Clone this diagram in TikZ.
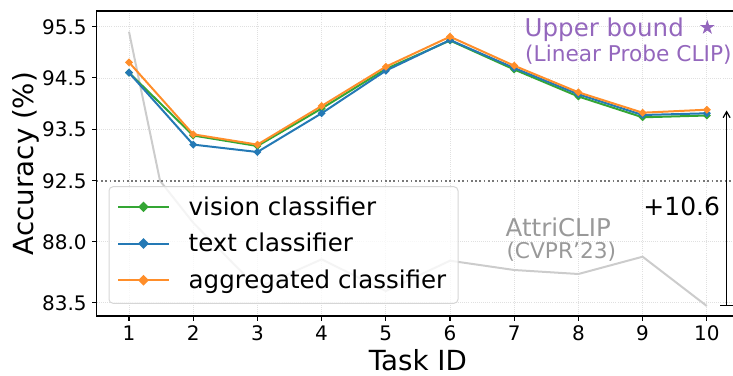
\documentclass[tikz,border=0pt]{standalone}
\usepackage{fontspec}
\setmainfont{DejaVu Sans}
\usetikzlibrary{arrows.meta,shapes.geometric}
\definecolor{cgreen}{RGB}{52,166,52}
\definecolor{cblue}{RGB}{36,121,181}
\definecolor{corange}{RGB}{255,142,42}
\definecolor{cpurple}{HTML}{9467BD}
\definecolor{cattri}{RGB}{204,204,204}
\definecolor{cattritext}{RGB}{153,153,153}
\definecolor{cgrid}{RGB}{224,224,224}
\definecolor{csep}{RGB}{120,120,120}
\definecolor{cframe}{RGB}{214,214,214}
\newcommand\fTick{\fontsize{20}{24}\selectfont}
\newcommand\fLab{\fontsize{27.7}{32}\selectfont}
\newcommand\fBig{\fontsize{24.5}{28}\selectfont}
\newcommand\fSm{\fontsize{21.7}{25}\selectfont}
\newcommand\dmk[4]{\fill[#1] (#2,#3) ++(0,-#4) -- ++(#4,#4) -- ++(-#4,#4) -- ++(-#4,-#4) -- cycle;}
\begin{document}
\begin{tikzpicture}[x=1pt,y=-1pt,
  gridline/.style={cgrid, line width=0.8pt, dash pattern=on 0.8pt off 1.3pt},
  spine/.style={black, line width=1.1pt},
  tickmark/.style={black, line width=1.1pt},
  ticklab/.style={font=\fTick, inner sep=0pt, text=black},
  series/.style={#1, line width=2pt, line join=round},
  attriline/.style={cattri, line width=2pt, line join=round},
  sepline/.style={csep, line width=1.7pt, dash pattern=on 1.7pt off 2.6pt},
  legendbox/.style={draw=cframe, line width=1pt, fill=white, fill opacity=0.8, rounded corners=4pt},
  legtext/.style={font=\fBig, anchor=base west, inner sep=0pt, text=black},
  annot/.style={inner sep=0pt, anchor=base west}
  ]
\useasboundingbox (0,0) rectangle (733,375);

% grid
\foreach \gx in {129,193.2,257.4,321.6,385.8,450,514.2,578.4,642.6,706.8}
  \draw[gridline] (\gx,11) -- (\gx,316);
\foreach \gy in {26.7,77.9,129.3,241.5,302.5}
  \draw[gridline] (96.7,\gy) -- (739,\gy);

% AttriCLIP (gray) line
\draw[attriline] (129,31.7) -- (160,180.7) -- (193.2,222.7) -- (257.4,288) -- (321.6,259.3) -- (385.8,291) -- (450,260.7) -- (514.2,270) -- (578.4,274) -- (642.6,256.7) -- (706.8,306);

% vision classifier
\draw[series=cgreen] (129,72.7) -- (193.2,135.5) -- (257.4,146) -- (321.6,108.5) -- (385.8,69) -- (450,40.5) -- (514.2,69.5) -- (578.4,96.5) -- (642.6,117.3) -- (706.8,115.5);
\foreach \px/\py in {129/72.7,193.2/135.5,257.4/146,321.6/108.5,385.8/69,450/40.5,514.2/69.5,578.4/96.5,642.6/117.3,706.8/115.5}
  \dmk{cgreen}{\px}{\py}{4};
% text classifier
\draw[series=cblue] (129,72.7) -- (193.2,144.6) -- (257.4,152) -- (321.6,113.3) -- (385.8,70.7) -- (450,40) -- (514.2,68) -- (578.4,94.3) -- (642.6,115) -- (706.8,113.3);
\foreach \px/\py in {129/72.7,193.2/144.6,257.4/152,321.6/113.3,385.8/70.7,450/40,514.2/68,578.4/94.3,642.6/115,706.8/113.3}
  \dmk{cblue}{\px}{\py}{4};
% aggregated classifier
\draw[series=corange] (129,62.3) -- (193.2,134.3) -- (257.4,144.6) -- (321.6,106) -- (385.8,66.7) -- (450,36.7) -- (514.2,65.7) -- (578.4,92.3) -- (642.6,112.7) -- (706.8,109.7);
\foreach \px/\py in {129/62.3,193.2/134.3,257.4/144.6,321.6/106,385.8/66.7,450/36.7,514.2/65.7,578.4/92.3,642.6/112.7,706.8/109.7}
  \dmk{corange}{\px}{\py}{4};

% separator at 92.5
\draw[sepline] (96.7,180.7) -- (733,180.7);

% spines
\draw[spine] (739,11) -- (96.7,11) -- (96.7,316) -- (739,316);

% y ticks
\foreach \ty/\tl [count=\i] in {26.7/95.5,77.9/94.5,129.3/93.5,180.7/92.5,241.5/88.0,302.5/83.5} {
  \draw[tickmark] (96.7,\ty) -- (91.8,\ty);
  \node[ticklab, anchor=base east] (yl\i) at (86.9,\ty+7.5) {\tl};
}
% x ticks
\foreach \tx [count=\i] in {129,193.2,257.4,321.6,385.8,450,514.2,578.4,642.6,706.8} {
  \draw[tickmark] (\tx,316) -- (\tx,320.9);
  \node[ticklab, anchor=base] (xl\i) at (\tx,340.5) {\i};
}

% axis labels
\node[font=\fLab, inner sep=0pt, anchor=base] (xlabel) at (417.8,370.5) {Task ID};
\node[font=\fLab, inner sep=0pt, anchor=base, rotate=90] (ylabel) at (33.5,163.5) {Accuracy (\%)};

% legend
\draw[legendbox] (109,186.7) rectangle (458,303.3);
\draw[series=cgreen] (118,206.8) -- (169,206.8);
\dmk{cgreen}{143.5}{206.8}{5.3}
\draw[series=cblue] (118,243.5) -- (169,243.5);
\dmk{cblue}{143.5}{243.5}{5.3}
\draw[series=corange] (118,280.2) -- (169,280.2);
\dmk{corange}{143.5}{280.2}{5.3}
\node[legtext] (lg1) at (188.5,215) {vision classifier};
\node[legtext] (lg2) at (188.5,251.7) {text classifier};
\node[legtext] (lg3) at (188.5,288.4) {aggregated classifier};

% annotations
\node[annot, font=\fBig, text=cpurple] (ub) at (524.5,36) {Upper bound};
\node[star, star points=5, star point ratio=2.618, minimum size=15.5pt, inner sep=0pt, fill=cpurple] (ubstar) at (707.3,27.5) {};
\node[annot, font=\fSm, text=cpurple] (lp) at (525,61.7) {(Linear Probe CLIP)};
\node[annot, font=\fBig, text=cattritext] (ac) at (505.5,236.7) {AttriCLIP};
\node[annot, font=\fSm, text=cattritext] (cv) at (506.3,258.3) {(CVPR'23)};
\node[annot, font=\fontsize{25}{29}\selectfont, text=black] (gain) at (643.2,215) {+10.6};

% gain arrow
\coordinate (arrB) at (726.6,305.7);
\coordinate (arrT) at (726.6,110.5);
\draw[black, line width=1.2pt, {Bar[width=12.7pt]}-{Straight Barb[length=6pt,width=7pt]}] (arrB) -- (arrT);
\end{tikzpicture}
\end{document}
